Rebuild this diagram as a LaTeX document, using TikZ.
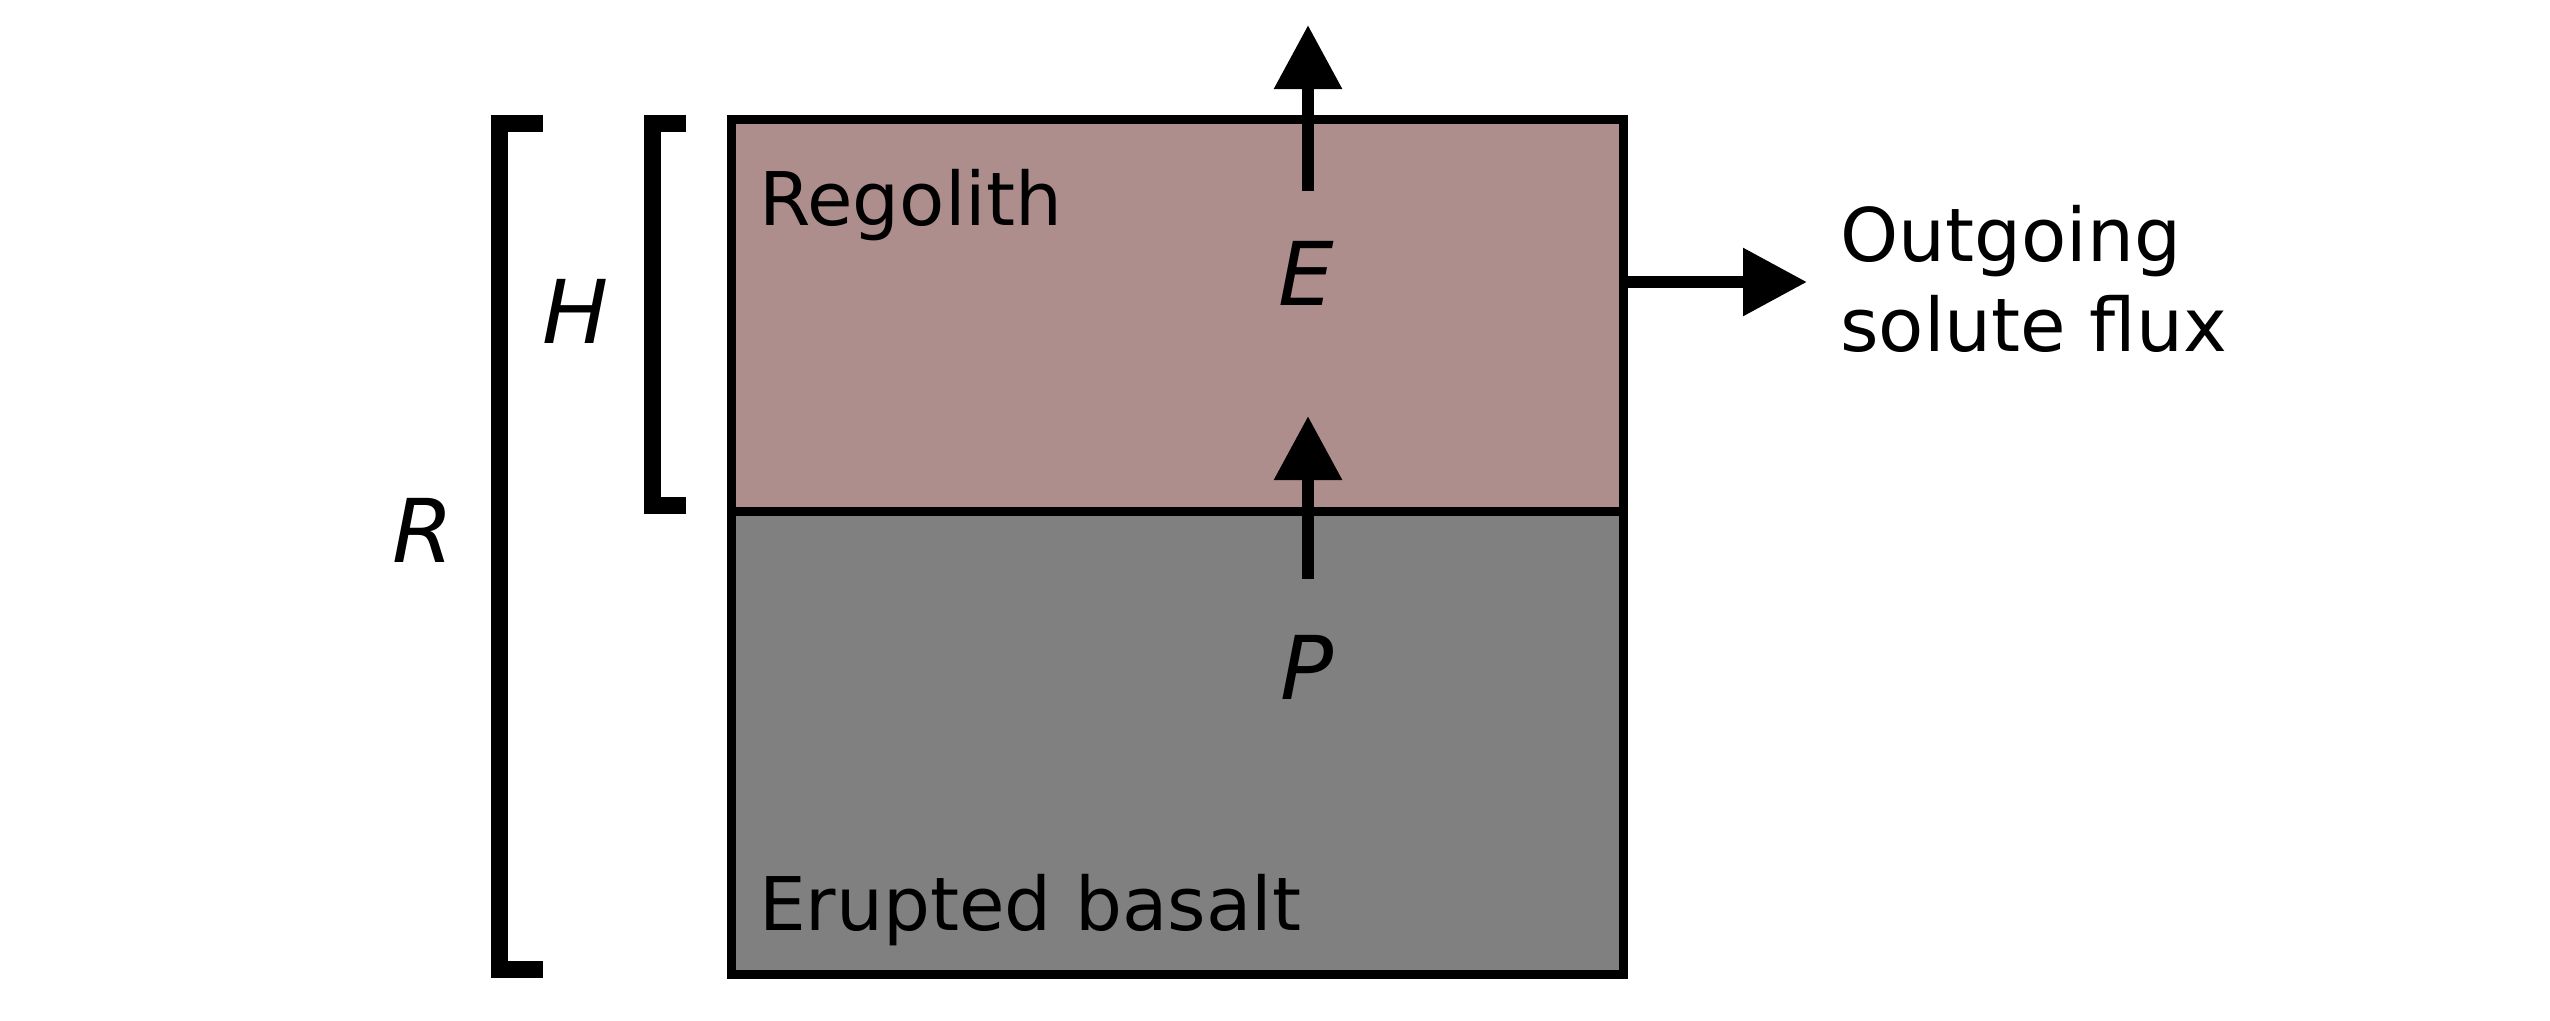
\documentclass[tikz,border=0pt]{standalone}
\usepackage{fontspec}
\setmainfont{DejaVu Sans}
\usetikzlibrary{arrows.meta}
\definecolor{regcol}{RGB}{174,142,140}
\definecolor{bascol}{RGB}{128,128,128}
\tikzset{
  layer/.style={draw=black, line width=9pt},
  flux/.style={line width=12.5pt, -{Triangle[length=64pt,width=65pt]}},
  brack/.style={line width=17pt, line join=miter, line cap=butt},
  lbl/.style={font=\fontsize{74}{89}\selectfont, inner sep=0pt},
  sym/.style={font=\fontsize{88}{100}\selectfont\itshape, inner sep=0pt},
}
\begin{document}
\begin{tikzpicture}[x=1pt,y=-1pt]
\useasboundingbox (0,0) rectangle (2550,1020);
% layers
\fill[regcol] (731,119) rectangle (1623,511);
\fill[bascol] (731,511) rectangle (1623,974);
\draw[layer] (731,119) rectangle (1623,974);
\draw[layer] (731,511) -- (1623,511);
% coordinates for fluxes
\coordinate (eS) at (1308,191);
\coordinate (eT) at (1308,25);
\coordinate (pS) at (1308,579);
\coordinate (pT) at (1308,416);
\coordinate (oS) at (1627,282);
\coordinate (oT) at (1807,282);
\draw[flux] (eS) -- (eT);
\draw[flux] (pS) -- (pT);
\draw[flux] (oS) -- (oT);
% brackets
\coordinate (rA) at (543,123);
\coordinate (rB) at (499,123);
\coordinate (rC) at (499,969);
\coordinate (rD) at (543,969);
\draw[brack] (rA) -- (rB) -- (rC) -- (rD);
\coordinate (hA) at (686,123);
\coordinate (hB) at (652,123);
\coordinate (hC) at (652,505);
\coordinate (hD) at (686,505);
\draw[brack] (hA) -- (hB) -- (hC) -- (hD);
% labels
\node[lbl, anchor=base west] (reg) at (759,225) {Regolith};
\node[lbl, anchor=base west] (bas) at (759,930) {Erupted basalt};
\node[lbl, anchor=base west] (out1) at (1840,261) {Outgoing};
\node[lbl, anchor=base west] (out2) at (1840,351) {solute flux};
\node[sym] (E) at (1306,273) {E};
\node[sym] (P) at (1307,667) {P};
\node[sym] (H) at (576,311) {H};
\node[sym] (R) at (423,530) {R};
\end{tikzpicture}
\end{document}
